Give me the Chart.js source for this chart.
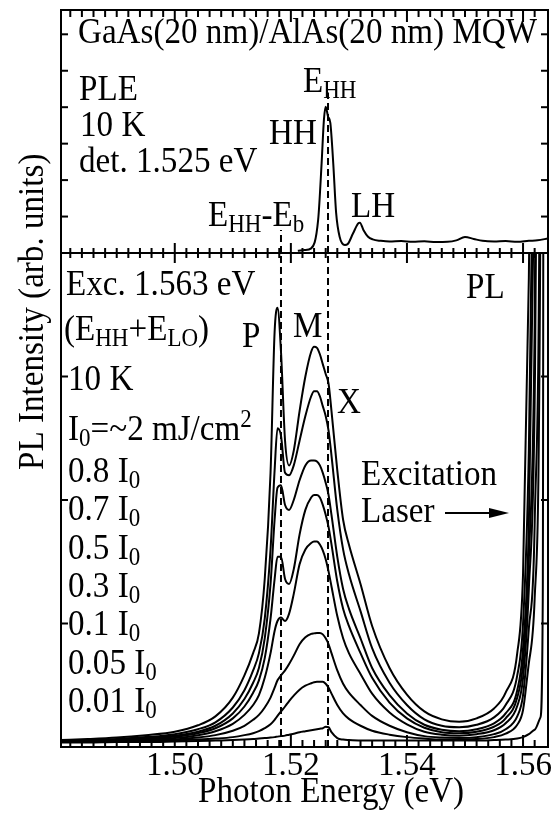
<!DOCTYPE html>
<html>
<head>
<meta charset="utf-8">
<script src="https://cdn.jsdelivr.net/npm/chart.js@4.4.0/dist/chart.umd.min.js"></script>
<style>
  html, body { margin: 0; padding: 0; background: #fff; }
</style>
</head>
<body>
<canvas id="grafica" width="558" height="816"></canvas>
<script>
// energia (eV) comun para los espectros PL
const energia = [1.4804, 1.485, 1.490, 1.495, 1.500, 1.504, 1.507, 1.510, 1.512, 1.5135,
  1.5145, 1.5155, 1.5165, 1.5172, 1.5177, 1.5183, 1.519, 1.5197, 1.5205, 1.5215,
  1.5225, 1.5235, 1.524, 1.5245, 1.525, 1.5255, 1.526, 1.5265, 1.527, 1.528,
  1.529, 1.530, 1.532, 1.534, 1.537, 1.540, 1.543, 1.546, 1.549, 1.552,
  1.555, 1.557, 1.559, 1.560, 1.561, 1.562, 1.563, 1.5634, 1.5638, 1.5646];

// PL, de I0 a 0.01 I0
const pl100 = [0.014, 0.016, 0.019, 0.024, 0.031, 0.044, 0.062, 0.10, 0.145, 0.19,
  0.23, 0.34, 0.555, 0.84, 0.889, 0.80, 0.62, 0.57, 0.60, 0.68,
  0.75, 0.80, 0.81, 0.808, 0.795, 0.775, 0.755, 0.735, 0.68, 0.56,
  0.46, 0.41, 0.33, 0.245, 0.16, 0.106, 0.072, 0.056, 0.051, 0.058,
  0.078, 0.11, 0.19, 0.35, 0.95, 2.0, 3.5, 4.5, 5, 1];
const pl080 = [0.012, 0.014, 0.016, 0.020, 0.026, 0.036, 0.050, 0.08, 0.115, 0.155,
  0.19, 0.26, 0.40, 0.56, 0.645, 0.63, 0.555, 0.55, 0.57, 0.62,
  0.67, 0.71, 0.72, 0.72, 0.71, 0.69, 0.67, 0.64, 0.59, 0.48,
  0.40, 0.35, 0.275, 0.2, 0.13, 0.085, 0.056, 0.043, 0.040, 0.045,
  0.06, 0.085, 0.145, 0.25, 0.6, 1.45, 3, 4.3, 5, 1];
const pl070 = [0.011, 0.013, 0.015, 0.018, 0.023, 0.031, 0.043, 0.068, 0.097, 0.13,
  0.16, 0.22, 0.33, 0.46, 0.525, 0.53, 0.49, 0.48, 0.5, 0.54,
  0.57, 0.58, 0.58, 0.578, 0.57, 0.555, 0.535, 0.51, 0.47, 0.385,
  0.32, 0.28, 0.22, 0.16, 0.105, 0.068, 0.045, 0.035, 0.032, 0.036,
  0.048, 0.068, 0.115, 0.2, 0.45, 1.2, 2.8, 4.2, 5, 1];
const pl050 = [0.011, 0.012, 0.014, 0.017, 0.021, 0.028, 0.038, 0.058, 0.082, 0.11,
  0.135, 0.18, 0.26, 0.34, 0.385, 0.385, 0.34, 0.33, 0.36, 0.43,
  0.48, 0.505, 0.51, 0.51, 0.505, 0.49, 0.47, 0.445, 0.41, 0.335,
  0.28, 0.245, 0.19, 0.14, 0.09, 0.058, 0.039, 0.03, 0.028, 0.031,
  0.041, 0.058, 0.1, 0.17, 0.38, 0.85, 2.6, 4.0, 5, 1];
const pl030 = [0.01, 0.011, 0.013, 0.015, 0.018, 0.024, 0.032, 0.047, 0.065, 0.085,
  0.105, 0.14, 0.19, 0.235, 0.255, 0.262, 0.255, 0.27, 0.31, 0.37,
  0.40, 0.413, 0.416, 0.416, 0.41, 0.398, 0.38, 0.355, 0.325, 0.265,
  0.22, 0.19, 0.148, 0.108, 0.07, 0.046, 0.031, 0.025, 0.023, 0.026,
  0.034, 0.048, 0.083, 0.14, 0.32, 0.7, 2.2, 3.8, 5, 1];
const pl010 = [0.01, 0.011, 0.012, 0.013, 0.015, 0.019, 0.024, 0.033, 0.043, 0.055,
  0.065, 0.08, 0.1, 0.12, 0.135, 0.145, 0.155, 0.168, 0.185, 0.208,
  0.222, 0.229, 0.23, 0.231, 0.231, 0.228, 0.22, 0.208, 0.19, 0.155,
  0.128, 0.11, 0.085, 0.063, 0.043, 0.03, 0.022, 0.019, 0.018, 0.02,
  0.026, 0.036, 0.062, 0.105, 0.24, 0.45, 1.5, 3.5, 5, 1];
const pl005 = [0.01, 0.01, 0.011, 0.012, 0.013, 0.015, 0.017, 0.02, 0.024, 0.028,
  0.032, 0.038, 0.046, 0.055, 0.063, 0.072, 0.082, 0.093, 0.104, 0.116,
  0.124, 0.129, 0.131, 0.132, 0.132, 0.132, 0.128, 0.12, 0.108, 0.085,
  0.068, 0.057, 0.043, 0.033, 0.025, 0.02, 0.017, 0.015, 0.015, 0.016,
  0.02, 0.027, 0.045, 0.075, 0.17, 0.3, 1.1, 3.2, 5, 1];
const pl001 = [0.009, 0.009, 0.01, 0.01, 0.011, 0.012, 0.013, 0.014, 0.015, 0.016,
  0.017, 0.018, 0.019, 0.02, 0.021, 0.022, 0.023, 0.025, 0.027, 0.03,
  0.032, 0.034, 0.035, 0.036, 0.037, 0.038, 0.041, 0.04, 0.03, 0.018,
  0.015, 0.014, 0.013, 0.013, 0.013, 0.013, 0.013, 0.013, 0.013, 0.013,
  0.014, 0.015, 0.017, 0.02, 0.026, 0.035, 0.06, 0.3, 5, 1];

// PLE, detectado en 1.525 eV
const pleEnergia = [1.5212, 1.5224, 1.5235, 1.5247, 1.5253, 1.5257, 1.526, 1.5264, 1.5268, 1.5273,
  1.5278, 1.5284, 1.5293, 1.5298, 1.5307, 1.5316, 1.5319, 1.5325, 1.5333, 1.5341,
  1.5355, 1.537, 1.539, 1.541, 1.543, 1.545, 1.547, 1.5485, 1.550, 1.5515,
  1.553, 1.555, 1.557, 1.559, 1.561, 1.5625, 1.5643];
const pleValores = [0.009, 0.012, 0.019, 0.136, 0.37, 0.55, 0.602, 0.562, 0.535, 0.37,
  0.165, 0.067, 0.033, 0.037, 0.08, 0.122, 0.125, 0.095, 0.067, 0.056,
  0.05, 0.047, 0.049, 0.046, 0.048, 0.045, 0.046, 0.052, 0.066, 0.058,
  0.05, 0.047, 0.049, 0.046, 0.05, 0.052, 0.06];

const ticksX = [1.50, 1.52, 1.54, 1.56];
const energiaEb = 1.5183;   // E_HH - E_b
const energiaHH = 1.5264;   // E_HH
const etiquetasPL = ['0.8', '0.7', '0.5', '0.3', '0.1', '0.05', '0.01'];

const fuente = '"Liberation Serif", "Times New Roman", serif';
const ctx = document.getElementById('grafica').getContext('2d');

function serie(xs, ys) {
  return xs.map((e, i) => ({ x: e, y: ys[i] }));
}

const curvasPL = [pl100, pl080, pl070, pl050, pl030, pl010, pl005, pl001];
const datasets = curvasPL.map(c => ({
  data: serie(energia, c),
  yAxisID: 'yBot',
  borderColor: '#000',
  borderWidth: 2,
  cubicInterpolationMode: 'monotone',
  pointRadius: 0
}));

datasets.push({
  data: serie(pleEnergia, pleValores),
  yAxisID: 'yTop',
  borderColor: '#000',
  borderWidth: 2,
  cubicInterpolationMode: 'monotone',
  pointRadius: 0
});

function linea(e, y0, y1, eje) {
  return {
    data: [{ x: e, y: y0 }, { x: e, y: y1 }],
    yAxisID: eje,
    borderColor: '#000',
    borderWidth: 2,
    borderDash: [7, 4],
    pointRadius: 0
  };
}
datasets.push(linea(energiaEb, 0, 1, 'yBot'));
datasets.push(linea(energiaHH, 0, 1, 'yBot'));
datasets.push(linea(energiaEb, 0, 0.095, 'yTop'));
datasets.push(linea(energiaHH, 0, 0.66, 'yTop'));

// recorta cada serie a su propio panel
const recorte = {
  id: 'recorte',
  beforeDatasetDraw(chart, args) {
    const a = chart.chartArea;
    const ys = args.meta.yScale;
    chart.ctx.save();
    chart.ctx.beginPath();
    chart.ctx.rect(a.left, ys.top, a.right - a.left, ys.bottom - ys.top);
    chart.ctx.clip();
  },
  afterDatasetDraw(chart) {
    chart.ctx.restore();
  }
};

// marco, divisor y marcas hacia dentro
function dibujarMarco(chart) {
  const c = chart.ctx;
  const a = chart.chartArea;
  const sx = chart.scales.x, yTop = chart.scales.yTop, yBot = chart.scales.yBot;
  const ancho = a.right - a.left;
  const div = yBot.top;
  c.save();
  c.fillStyle = '#000';
  c.strokeStyle = '#000';
  c.lineWidth = 2;
  c.strokeRect(a.left, a.top, ancho, a.bottom - a.top);
  c.fillRect(a.left, div - 1, ancho, 2);
  for (let k = 741; k <= 782; k++) {
    const px = sx.getPixelForValue(k / 500);
    if (px < a.left + 2 || px > a.right - 2) continue;
    const l = k % 10 === 0 ? 12 : 7;
    c.fillRect(px - 1, a.top, 2, l);
    c.fillRect(px - 1, div - l + 2, 2, 2 * l - 4);
    c.fillRect(px - 1, a.bottom - l, 2, l);
  }
  for (let i = 1; i <= 6; i++) {
    const py = yTop.getPixelForValue(i * 0.15);
    c.fillRect(a.left, py - 1, 7, 2);
    c.fillRect(a.right - 7, py - 1, 7, 2);
  }
  for (let i = 1; i <= 3; i++) {
    const py = yBot.getPixelForValue(i * 0.25);
    c.fillRect(a.left, py - 1, 7, 2);
    c.fillRect(a.right - 7, py - 1, 7, 2);
  }
  c.restore();
}

function texto(c, x, y, partes) {
  let cx = x;
  for (const p of partes) {
    const size = p[1] ? 25 : 36;
    const dy = p[1] === 'sub' ? 6 : (p[1] === 'sup' ? -13 : 0);
    c.font = size + 'px ' + fuente;
    c.save();
    c.translate(cx, y + dy);
    c.scale(0.92, 1);
    c.fillText(p[0], 0, 0);
    c.restore();
    cx += c.measureText(p[0]).width * 0.92;
  }
}

const anotaciones = [
  [78, 43, [['GaAs(20 nm)/AlAs(20 nm) MQW']]],
  [79, 100, [['PLE']]],
  [80, 136, [['10 K']]],
  [79, 172, [['det. 1.525 eV']]],
  [303, 92, [['E'], ['HH', 'sub']]],
  [269, 144, [['HH']]],
  [208, 226, [['E'], ['HH', 'sub'], ['-E'], ['b', 'sub']]],
  [351, 217, [['LH']]],
  [66, 295, [['Exc. 1.563 eV']]],
  [64, 340, [['(E'], ['HH', 'sub'], ['+E'], ['LO', 'sub'], [')']]],
  [242, 347, [['P']]],
  [293, 337, [['M']]],
  [337, 413, [['X']]],
  [68, 390, [['10 K']]],
  [68, 440, [['I'], ['0', 'sub'], ['=~2 mJ/cm'], ['2', 'sup']]],
  [466, 298, [['PL']]],
  [361, 485, [['Excitation']]],
  [361, 522, [['Laser']]]
];
etiquetasPL.forEach((t, i) => {
  anotaciones.push([68, 482 + i * 38.3, [[t + ' I'], ['0', 'sub']]]);
});

const textos = {
  id: 'textos',
  afterDraw(chart) {
    dibujarMarco(chart);
    const c = chart.ctx;
    c.save();
    c.fillStyle = '#000';
    c.textBaseline = 'alphabetic';
    c.textAlign = 'left';
    anotaciones.forEach(a => texto(c, a[0], a[1], a[2]));
    // flecha del laser
    c.strokeStyle = '#000';
    c.lineWidth = 2;
    c.beginPath();
    c.moveTo(445, 513); c.lineTo(492, 513);
    c.stroke();
    c.beginPath();
    c.moveTo(509, 513); c.lineTo(489, 508); c.lineTo(489, 518);
    c.closePath(); c.fill();
    // titulos de ejes
    texto(c, 198, 802, [['Photon Energy (eV)']]);
    c.translate(43, 470);
    c.rotate(-Math.PI / 2);
    texto(c, 0, 0, [['PL Intensity (arb. units)']]);
    c.restore();
  }
};

new Chart(ctx, {
  type: 'line',
  data: { datasets: datasets },
  options: {
    responsive: false,
    animation: false,
    devicePixelRatio: 1,
    layout: { padding: { left: 61, right: 10, top: 10, bottom: 0 } },
    plugins: { legend: { display: false }, tooltip: { enabled: false } },
    scales: {
      x: {
        type: 'linear', min: 1.4804, max: 1.5643,
        afterBuildTicks: s => { s.ticks = ticksX.map(v => ({ value: v })); },
        afterFit: s => { s.height = 69; },
        grid: { display: false, drawTicks: false },
        border: { display: false },
        ticks: {
          color: '#000', padding: 0, maxRotation: 0, autoSkip: false,
          font: { family: fuente, size: 33 },
          callback: v => v.toFixed(2)
        }
      },
      yBot: {
        type: 'linear', position: 'left', stack: 'panel', stackWeight: 494,
        min: 0, max: 1,
        grid: { display: false }, border: { display: false },
        ticks: { display: false },
        afterFit: s => { s.width = 0; }
      },
      yTop: {
        type: 'linear', position: 'left', stack: 'panel', stackWeight: 243,
        min: 0, max: 1,
        grid: { display: false }, border: { display: false },
        ticks: { display: false },
        afterFit: s => { s.width = 0; }
      }
    }
  },
  plugins: [recorte, textos]
});
</script>
</body>
</html>
